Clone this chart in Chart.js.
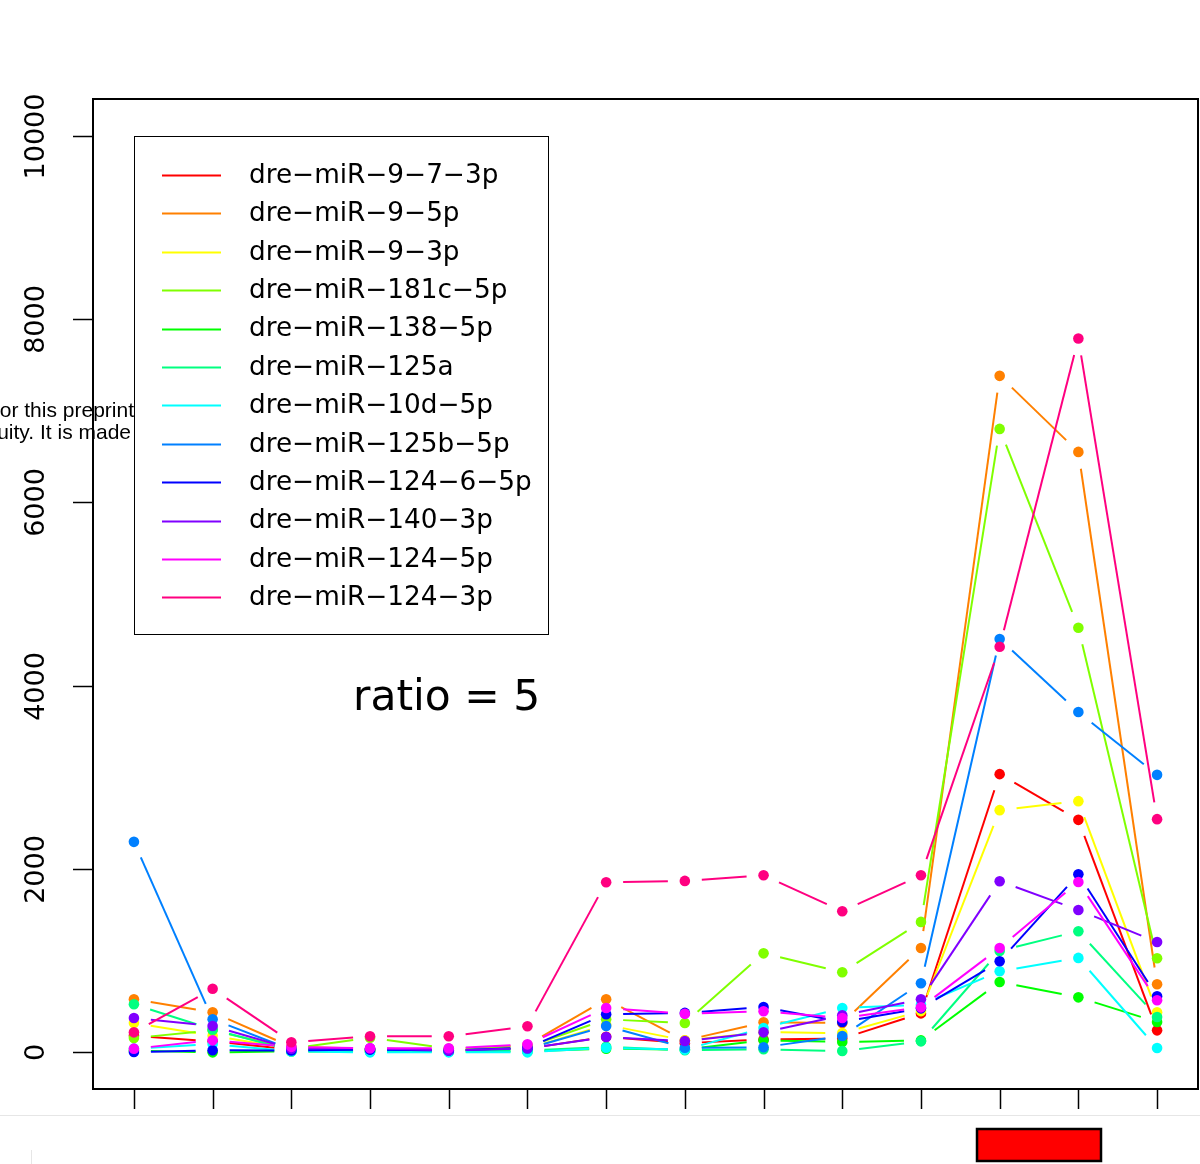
<!DOCTYPE html>
<html>
<head>
<meta charset="utf-8">
<script src="https://cdn.jsdelivr.net/npm/chart.js@4/dist/chart.umd.min.js"></script>
<style>
  html, body { margin: 0; padding: 0; background: #fff; }
  #wrap { width: 1200px; height: 1164px; position: relative; }
</style>
</head>
<body>
<div id="wrap"><canvas id="mirna_chart" width="1200" height="1164"></canvas></div>
<script>
// sample positions 1..14 (no labels on the x axis)
const samples = [1, 2, 3, 4, 5, 6, 7, 8, 9, 10, 11, 12, 13, 14];
const yTicks = [0, 2000, 4000, 6000, 8000, 10000];

const names = [
  "dre−miR−9−7−3p", "dre−miR−9−5p", "dre−miR−9−3p", "dre−miR−181c−5p",
  "dre−miR−138−5p", "dre−miR−125a", "dre−miR−10d−5p", "dre−miR−125b−5p",
  "dre−miR−124−6−5p", "dre−miR−140−3p", "dre−miR−124−5p", "dre−miR−124−3p",
];
const colors = [
  "#FF0000", "#FF8000", "#FFFF00", "#80FF00", "#00FF00", "#00FF80",
  "#00FFFF", "#0080FF", "#0000FF", "#8000FF", "#FF00FF", "#FF0080",
];

const mir9_7_3p  = [180, 120, 30, 20, 20, 40, 170, 100, 140, 150, 425, 3035, 2536, 240];
const mir9_5p    = [579, 437, 60, 40, 30, 80, 579, 130, 327, 320, 1139, 7380, 6550, 742];
const mir9_3p    = [320, 180, 40, 30, 20, 40, 300, 130, 220, 210, 450, 2642, 2740, 437];
const mir181c_5p = [156, 240, 40, 160, 40, 60, 360, 320, 1080, 873, 1423, 6801, 4632, 1026];
const mir138_5p  = [20, 0, 10, 10, 10, 10, 40, 30, 131, 113, 130, 768, 600, 331];
const mir125a    = [524, 250, 20, 20, 10, 20, 60, 22, 33, 14, 120, 1106, 1321, 386];
const mir10d_5p  = [40, 90, 10, 0, 0, 0, 50, 30, 265, 484, 520, 884, 1030, 47];
const mir125b_5p = [2296, 360, 30, 30, 20, 40, 287, 50, 55, 178, 753, 4509, 3712, 3027];
const mir124_6_5p = [3, 22, 20, 30, 20, 50, 415, 430, 495, 331, 480, 993, 1943, 611];
const mir140_3p  = [375, 287, 40, 45, 20, 44, 167, 123, 218, 404, 579, 1867, 1553, 1204];
const mir124_5p  = [40, 131, 60, 45, 45, 87, 484, 420, 448, 375, 491, 1139, 1859, 568];
const mir124_3p  = [218, 693, 110, 175, 175, 284, 1856, 1870, 1932, 1539, 1932, 4425, 7787, 2544];

const series = [
  mir9_7_3p, mir9_5p, mir9_3p, mir181c_5p, mir138_5p, mir125a,
  mir10d_5p, mir125b_5p, mir124_6_5p, mir140_3p, mir124_5p, mir124_3p,
];

const GAP = 17;
const FONT = "'DejaVu Sans', sans-serif";

// R type="b": line segments that stop short of each point
const gappedLines = {
  id: "gappedLines",
  beforeDatasetDraw(chart, args) {
    const ctx = chart.ctx;
    const pts = args.meta.data;
    const ds = chart.data.datasets[args.index];
    ctx.save();
    ctx.strokeStyle = ds.backgroundColor;
    ctx.lineWidth = 2;
    ctx.lineCap = "butt";
    for (let i = 0; i < pts.length - 1; i++) {
      const a = pts[i], b = pts[i + 1];
      const dx = b.x - a.x, dy = b.y - a.y;
      const len = Math.hypot(dx, dy);
      if (len <= 2 * GAP) continue;
      const ux = dx / len, uy = dy / len;
      ctx.beginPath();
      ctx.moveTo(a.x + ux * GAP, a.y + uy * GAP);
      ctx.lineTo(b.x - ux * GAP, b.y - uy * GAP);
      ctx.stroke();
    }
    ctx.restore();
  },
};

const decorations = {
  id: "decorations",
  afterDraw(chart) {
    const ctx = chart.ctx;
    const area = chart.chartArea;
    const xs = chart.scales.x, ys = chart.scales.y;
    ctx.save();

    // stray preprint text from the page behind
    ctx.save();
    ctx.beginPath();
    ctx.rect(0, 380, 134, 80);
    ctx.clip();
    ctx.fillStyle = "#000";
    ctx.font = "21px 'Liberation Sans', Arial, sans-serif";
    ctx.textAlign = "right";
    ctx.textBaseline = "alphabetic";
    ctx.fillText("or this preprint", 134, 417);
    ctx.fillText("uity. It is made", 131, 439);
    ctx.restore();

    // box
    ctx.strokeStyle = "#000";
    ctx.lineWidth = 2;
    ctx.strokeRect(area.left, area.top, area.right - area.left, area.bottom - area.top);

    // x ticks
    ctx.lineWidth = 1.5;
    samples.forEach((s) => {
      const px = Math.round(xs.getPixelForValue(s)) + 0.5;
      ctx.beginPath();
      ctx.moveTo(px, area.bottom);
      ctx.lineTo(px, area.bottom + 20);
      ctx.stroke();
    });

    // y ticks and rotated labels
    ctx.fillStyle = "#000";
    ctx.font = "27px " + FONT;
    ctx.textAlign = "center";
    ctx.textBaseline = "middle";
    yTicks.forEach((t) => {
      const py = Math.round(ys.getPixelForValue(t)) + 0.5;
      ctx.beginPath();
      ctx.moveTo(area.left, py);
      ctx.lineTo(area.left - 20, py);
      ctx.stroke();
      ctx.save();
      ctx.translate(37, py);
      ctx.rotate(-Math.PI / 2);
      ctx.fillText(String(t), 0, 0);
      ctx.restore();
    });

    // legend
    const lx = 134, ly = 136, lw = 414, lh = 498;
    ctx.fillStyle = "#fff";
    ctx.fillRect(lx, ly, lw, lh);
    ctx.strokeStyle = "#000";
    ctx.lineWidth = 1;
    ctx.strokeRect(lx + 0.5, ly + 0.5, lw, lh);
    ctx.font = "26.3px " + FONT;
    ctx.textAlign = "left";
    ctx.textBaseline = "middle";
    names.forEach((n, i) => {
      const y = 175 + i * 38.4;
      ctx.strokeStyle = colors[i];
      ctx.lineWidth = 2;
      ctx.beginPath();
      ctx.moveTo(162, Math.round(y) + 0.5);
      ctx.lineTo(221, Math.round(y) + 0.5);
      ctx.stroke();
      ctx.fillStyle = "#000";
      ctx.fillText(n, 249, y + 1);
    });

    // annotation
    ctx.font = "42.4px " + FONT;
    ctx.fillText("ratio = 5", 353, 699);

    // page edge line and red box below the plot
    ctx.strokeStyle = "#e6e6e6";
    ctx.lineWidth = 1;
    ctx.beginPath();
    ctx.moveTo(0, 1115.5);
    ctx.lineTo(1200, 1115.5);
    ctx.stroke();
    ctx.beginPath();
    ctx.moveTo(31.5, 1150);
    ctx.lineTo(31.5, 1164);
    ctx.stroke();

    ctx.fillStyle = "#FF0000";
    ctx.fillRect(977, 1129, 124, 32);
    ctx.strokeStyle = "#000";
    ctx.lineWidth = 2.5;
    ctx.strokeRect(977, 1129, 124, 32);

    ctx.restore();
  },
};

const datasets = series.map((vals, i) => ({
  label: names[i],
  data: samples.map((s, j) => ({ x: s, y: vals[j] })),
  backgroundColor: colors[i],
  borderColor: colors[i],
  showLine: false,
  pointRadius: 5.3,
  pointBorderWidth: 0,
  pointHoverRadius: 5.3,
  order: -i,
}));

new Chart(document.getElementById("mirna_chart"), {
  type: "scatter",
  data: { datasets },
  options: {
    responsive: false,
    animation: false,
    events: [],
    layout: { autoPadding: false, padding: { left: 93, right: 2, top: 99, bottom: 75 } },
    plugins: { legend: { display: false }, tooltip: { enabled: false } },
    scales: {
      x: { type: "linear", display: false, min: 0.48, max: 14.52 },
      y: { type: "linear", display: false, min: -400, max: 10400 },
    },
  },
  plugins: [gappedLines, decorations],
});
</script>
</body>
</html>
